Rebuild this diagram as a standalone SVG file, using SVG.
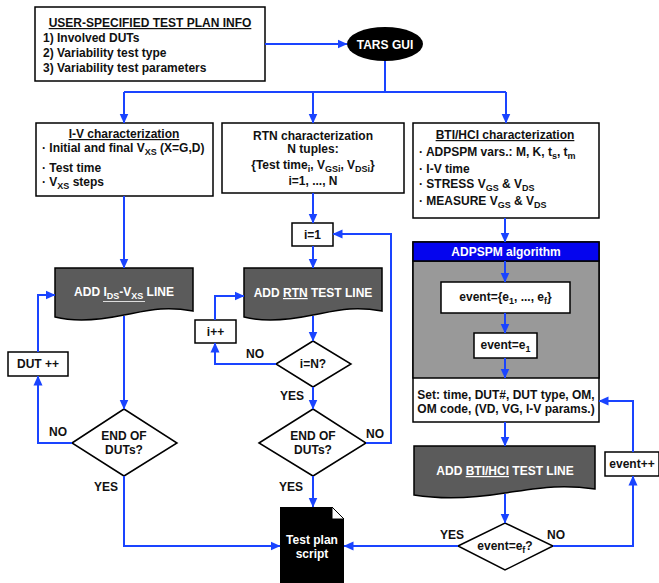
<svg xmlns="http://www.w3.org/2000/svg" width="659" height="583" viewBox="0 0 659 583">
<defs>
<style>
.box{fill:#fff;stroke:#000;stroke-width:1.5}
.doc{fill:#5b5b5b;stroke:#000;stroke-width:1.5}
.conn{fill:none;stroke:#1a44ff;stroke-width:2}
.t{font-family:"Liberation Sans",Arial,Helvetica,sans-serif;font-weight:bold;font-size:12px;fill:#111}
.c{text-anchor:middle}
.w{fill:#fff}
.u{text-decoration:underline}
.s{font-size:9px}
</style>
<marker id="ah" viewBox="0 0 10 10" refX="9.5" refY="5" markerWidth="10" markerHeight="10" markerUnits="userSpaceOnUse" orient="auto">
<path d="M0,0.5 L10,5 L0,9.5 Z" fill="#1a44ff"/>
</marker>
</defs>
<rect width="659" height="583" fill="#fff"/>

<g id="info">
<rect class="box" x="35" y="7" width="230" height="74"/>
<text class="t c u" x="150" y="27">USER-SPECIFIED TEST PLAN INFO</text>
<text class="t" x="43" y="42">1) Involved DUTs</text>
<text class="t" x="43" y="57">2) Variability test type</text>
<text class="t" x="43" y="72">3) Variability test parameters</text>
</g>

<g id="tars">
<ellipse cx="385" cy="44" rx="38" ry="17" fill="#000"/>
<text class="t c w" x="385" y="48.5">TARS GUI</text>
</g>

<g id="iv">
<rect class="box" x="36" y="123" width="177" height="73"/>
<text class="t c u" x="124" y="138">I-V characterization</text>
<text class="t" x="42" y="152">· Initial and final V<tspan class="s" dy="3">XS</tspan><tspan dy="-3"> (X=G,D)</tspan></text>
<text class="t" x="42" y="172">· Test time</text>
<text class="t" x="42" y="186">· V<tspan class="s" dy="3">XS</tspan><tspan dy="-3"> steps</tspan></text>
</g>

<g id="rtn">
<rect class="box" x="222" y="123" width="182" height="70"/>
<text class="t c" x="313" y="140">RTN characterization</text>
<text class="t c" x="313" y="153">N tuples:</text>
<text class="t c" x="313" y="169">{Test time<tspan class="s" dy="3">i</tspan><tspan dy="-3">, V</tspan><tspan class="s" dy="3">GSi</tspan><tspan dy="-3">, V</tspan><tspan class="s" dy="3">DSi</tspan><tspan dy="-3">}</tspan></text>
<text class="t c" x="313" y="185">i=1, ..., N</text>
</g>

<g id="bti">
<rect class="box" x="413" y="123" width="186" height="95"/>
<text class="t c u" x="505" y="139">BTI/HCI characterization</text>
<text class="t" x="419" y="156">· ADPSPM vars.: M, K, t<tspan class="s" dy="3">s</tspan><tspan dy="-3">, t</tspan><tspan class="s" dy="3">m</tspan></text>
<text class="t" x="419" y="173">· I-V time</text>
<text class="t" x="419" y="188">· STRESS V<tspan class="s" dy="3">GS</tspan><tspan dy="-3"> &amp; V</tspan><tspan class="s" dy="3">DS</tspan></text>
<text class="t" x="419" y="205">· MEASURE V<tspan class="s" dy="3">GS</tspan><tspan dy="-3"> &amp; V</tspan><tspan class="s" dy="3">DS</tspan></text>
</g>

<g id="add-iv">
<path class="doc" d="M55,268 H193 V311 C165,306 150,310 124,315 C100,320 75,322 55,317 Z"/>
<text class="t c w" x="124" y="296">ADD  I<tspan class="s" dy="3">DS</tspan><tspan dy="-3">-V</tspan><tspan class="s" dy="3">XS</tspan><tspan dy="-3"> LINE</tspan></text>
<line x1="103" y1="301.5" x2="145" y2="301.5" stroke="#ddd" stroke-width="1"/>
</g>

<g id="dutpp">
<rect class="box" x="8" y="352" width="60" height="24"/>
<text class="t c" x="38" y="368">DUT ++</text>
</g>

<g id="end-iv">
<path class="box" d="M72,443 L124,409 L177,443 L124,476 Z"/>
<text class="t c" x="124" y="440">END OF</text>
<text class="t c" x="124" y="454">DUTs?</text>
</g>

<g id="i1">
<rect class="box" x="292" y="223" width="41" height="23"/>
<text class="t c" x="312.5" y="239">i=1</text>
</g>

<g id="add-rtn">
<path class="doc" d="M244,268 H382 V311 C354,306 339,310 313,315 C289,320 264,322 244,317 Z"/>
<text class="t c w" x="313" y="297">ADD <tspan class="u">RTN</tspan> TEST LINE</text>
</g>

<g id="ipp">
<rect class="box" x="195" y="320" width="41" height="23"/>
<text class="t c" x="215.5" y="336">i++</text>
</g>

<g id="iN">
<path class="box" d="M276,364 L313,341 L351,364 L313,387 Z"/>
<text class="t c" x="313" y="368">i=N?</text>
</g>

<g id="end-rtn">
<path class="box" d="M259,443 L313,409 L366,443 L313,476 Z"/>
<text class="t c" x="313" y="440">END OF</text>
<text class="t c" x="313" y="454">DUTs?</text>
</g>

<g id="adpspm">
<rect class="box" x="413" y="242" width="186" height="180"/>
<rect x="413" y="261" width="186" height="117" fill="#999" stroke="#000" stroke-width="1.5"/>
<rect x="413" y="242" width="186" height="19" fill="#0505ee" stroke="#000" stroke-width="1.5"/>
<text class="t c w" x="506" y="256">ADPSPM algorithm</text>
<text class="t c" x="506" y="399">Set: time, DUT#, DUT type, OM,</text>
<text class="t c" x="506" y="413">OM code, (VD, VG, I-V params.)</text>
</g>

<g id="eventset">
<rect class="box" x="441" y="282" width="129" height="31"/>
<text class="t c" x="505.5" y="301">event={e<tspan class="s" dy="3">1</tspan><tspan dy="-3">, ..., e</tspan><tspan class="s" dy="3">f</tspan><tspan dy="-3">}</tspan></text>
</g>

<g id="event1">
<rect class="box" x="474" y="333" width="63" height="25"/>
<text class="t c" x="505.5" y="349">event=e<tspan class="s" dy="3">1</tspan></text>
</g>

<g id="add-bti">
<path class="doc" d="M414,446 H595 V489 C560,484 540,488 505,493 C475,498 445,500 414,495 Z"/>
<text class="t c w" x="505" y="475">ADD <tspan class="u">BTI/HCI</tspan> TEST LINE</text>
</g>

<g id="eventf">
<path class="box" d="M458,546 L505,523 L553,546 L505,570 Z"/>
<text class="t c" x="505" y="550">event=e<tspan class="s" dy="3">f</tspan><tspan dy="-3">?</tspan></text>
</g>

<g id="eventpp">
<rect class="box" x="605" y="452" width="54" height="24"/>
<text class="t c" x="632" y="468">event++</text>
</g>

<g id="script">
<path d="M280,507 H332 L344,519 V583 H280 Z" fill="#000"/>
<path d="M332,507 V519 H344 Z" fill="#fff" stroke="#000" stroke-width="1"/>
<text class="t c w" x="312" y="544">Test plan</text>
<text class="t c w" x="312" y="558">script</text>
</g>

<g id="connectors" class="conn">
<path d="M265,44 H347" marker-end="url(#ah)"/>
<path d="M385,61 V92 M124,92 H506"/>
<path d="M124,92 V123" marker-end="url(#ah)"/>
<path d="M313,92 V123" marker-end="url(#ah)"/>
<path d="M506,92 V123" marker-end="url(#ah)"/>
<path d="M124,196 V268" marker-end="url(#ah)"/>
<path d="M124,316 V409" marker-end="url(#ah)"/>
<path d="M72,443 H38 V376" marker-end="url(#ah)"/>
<path d="M38,352 V295 H55" marker-end="url(#ah)"/>
<path d="M124,476 V546 H280" marker-end="url(#ah)"/>
<path d="M313,193 V223" marker-end="url(#ah)"/>
<path d="M313,246 V268" marker-end="url(#ah)"/>
<path d="M313,316 V341" marker-end="url(#ah)"/>
<path d="M276,364 H215 V343" marker-end="url(#ah)"/>
<path d="M215,320 V296 H244" marker-end="url(#ah)"/>
<path d="M313,387 V409" marker-end="url(#ah)"/>
<path d="M366,443 H391 V234 H333" marker-end="url(#ah)"/>
<path d="M313,476 V507" marker-end="url(#ah)"/>
<path d="M505,218 V242" marker-end="url(#ah)"/>
<path d="M505,261 V282" marker-end="url(#ah)"/>
<path d="M505,313 V333" marker-end="url(#ah)"/>
<path d="M505,358 V378" marker-end="url(#ah)"/>
<path d="M505,422 V446" marker-end="url(#ah)"/>
<path d="M505,494 V523" marker-end="url(#ah)"/>
<path d="M458,546 H344" marker-end="url(#ah)"/>
<path d="M553,546 H633 V476" marker-end="url(#ah)"/>
<path d="M633,452 V401 H599" marker-end="url(#ah)"/>
</g>

<g id="labels" class="t">
<text class="c" x="58" y="436">NO</text>
<text class="c" x="106" y="491">YES</text>
<text class="c" x="255" y="358">NO</text>
<text class="c" x="292" y="400">YES</text>
<text class="c" x="375" y="438">NO</text>
<text class="c" x="291" y="491">YES</text>
<text class="c" x="452" y="539">YES</text>
<text class="c" x="556" y="539">NO</text>
</g>
</svg>
